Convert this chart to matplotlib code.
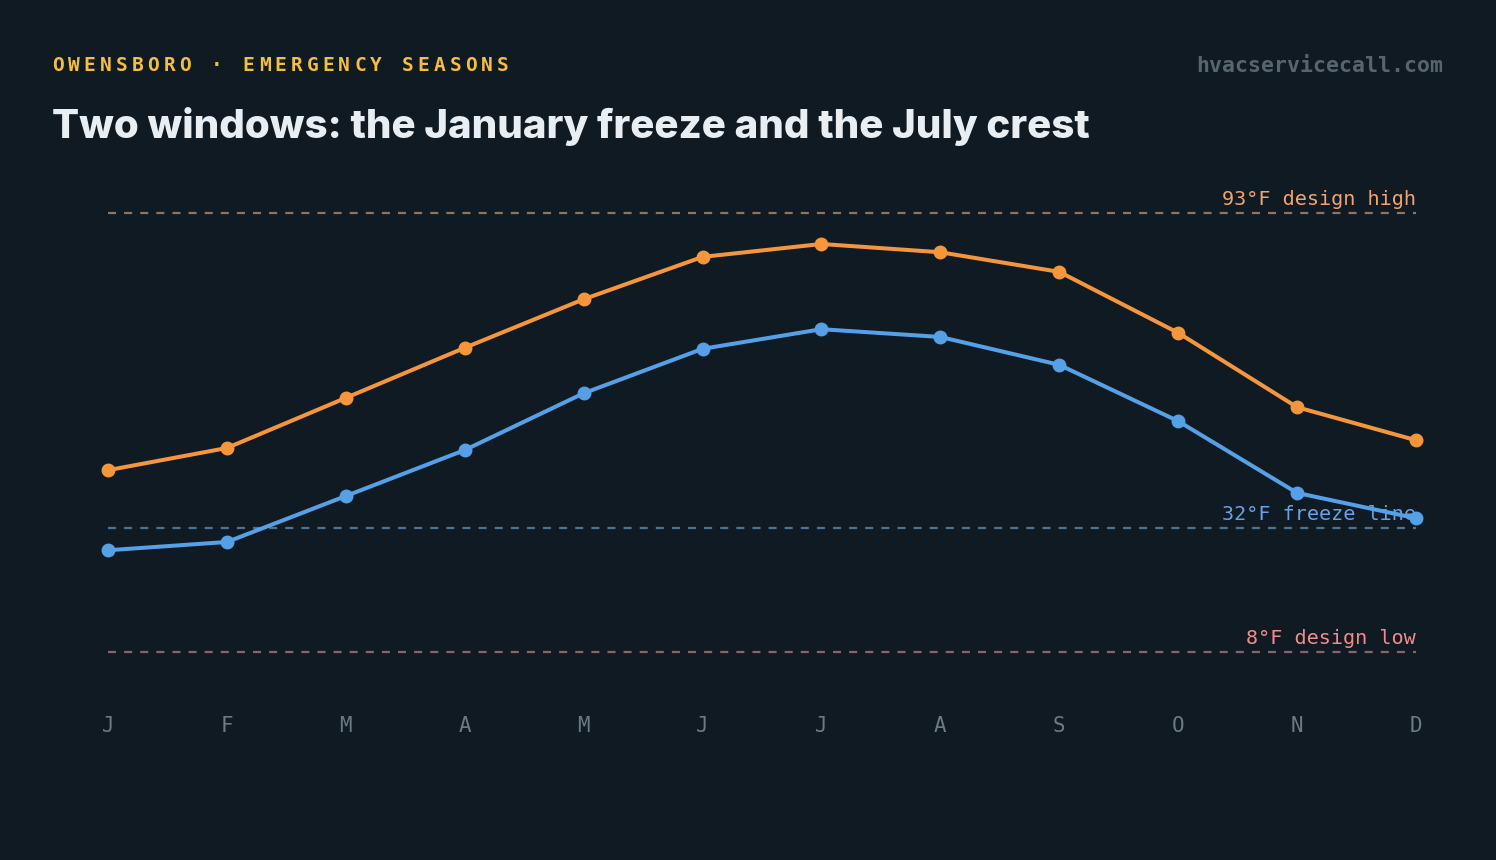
import matplotlib
matplotlib.use("Agg")
import matplotlib.pyplot as plt

# Data
MONTHS = ['J', 'F', 'M', 'A', 'M', 'J', 'J', 'A', 'S', 'O', 'N', 'D']
HIGH_F = [43.2, 47.5, 57.2, 66.9, 76.3, 84.5, 87.0, 85.4, 81.6, 69.8, 55.4, 49.0]
MEAN_F = [27.7, 29.3, 38.2, 47.1, 58.1, 66.7, 70.5, 69.0, 63.6, 52.7, 38.8, 33.9]
REF_VALUES = [93, 32, 8]
REF_LABELS = ['93°F design high', '32°F freeze line', '8°F design low']

BG = '#0f1a22'
MONO = ['DejaVu Sans Mono']
W, H = 1496, 860

plt.rcParams['lines.scale_dashes'] = False
fig = plt.figure(figsize=(W / 100, H / 100), dpi=100, facecolor=BG)

# axes so that J..D spans 108..1416 px and 8..93 F spans 652..213 px
ax = fig.add_axes([108 / W, (H - 652) / H, (1416 - 108) / W, (652 - 213) / H])
ax.set_facecolor(BG)
ax.set_xlim(0, len(MONTHS) - 1)
ax.set_ylim(min(REF_VALUES), max(REF_VALUES))
for s in ax.spines.values():
    s.set_visible(False)

x = list(range(len(MONTHS)))

# reference lines + labels
ref_line_cols = ['#8f7560', '#4f7394', '#8a6468']
ref_text_cols = ['#f2a46e', '#64a4e4', '#f28c8c']
for v, lab, lc, tc in zip(REF_VALUES, REF_LABELS, ref_line_cols, ref_text_cols):
    ax.axhline(v, color=lc, lw=1.6, dashes=(5.8, 5.8), zorder=1, clip_on=False)
    ax.annotate(lab, xy=(x[-1], v), xytext=(0, 6), textcoords='offset points',
                ha='right', va='baseline', color=tc, fontsize=14.5,
                family=MONO, zorder=2, annotation_clip=False)

ax.plot(x, HIGH_F, color='#f5963c', lw=2.9, marker='o', ms=9, zorder=4, clip_on=False)
ax.plot(x, MEAN_F, color='#55a0e6', lw=2.9, marker='o', ms=9, zorder=4, clip_on=False)

ax.set_xticks(x)
ax.set_xticklabels(MONTHS, family=MONO, fontsize=15, color='#6b7b86')
ax.tick_params(axis='x', length=0, pad=46)
ax.set_yticks([])

# kicker, letter-spaced by hand
kicker = 'OWENSBORO · EMERGENCY SEASONS'
for i, ch in enumerate(kicker):
    fig.text((52 + i * 15.9) / W, (H - 71) / H, ch, family=MONO, fontsize=14,
             fontweight='bold', color='#f5be3c', va='baseline', ha='left')

fig.text(52 / W, (H - 138) / H, 'Two windows: the January freeze and the July crest',
         family=['Inter', 'DejaVu Sans'], fontweight='heavy', fontsize=29,
         color='#e9eef2', va='baseline', ha='left')

fig.text(1443 / W, (H - 72) / H, 'hvacservicecall.com', family=MONO, fontsize=15.5,
         fontweight='bold', color='#56656f', va='baseline', ha='right')

fig.savefig('out.png', dpi=100, facecolor=BG)
